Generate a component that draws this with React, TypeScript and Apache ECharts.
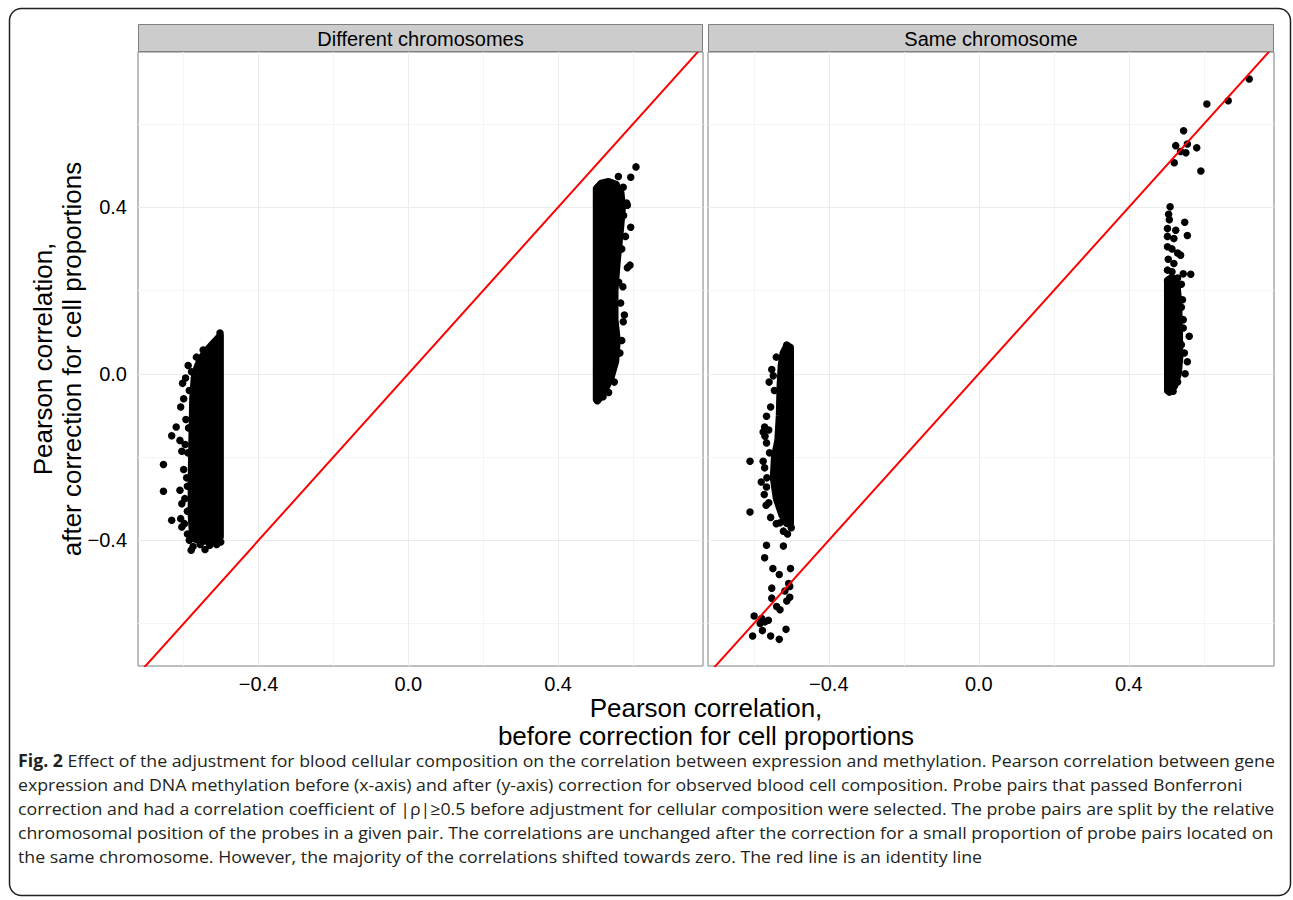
import React, { useEffect, useRef } from "react";
import * as echarts from "echarts";

// ---------- data ----------
const panelTitles = ["Different chromosomes", "Same chromosome"];
const xTicks = [-0.4, 0.0, 0.4];
const yTicks = [-0.4, 0.0, 0.4];
const gridMajor = [-0.4, 0.0, 0.4];
const gridMinor = [-0.6, -0.2, 0.2, 0.6];
const xRange = [-0.722, 0.787];
const yRange = [-0.702, 0.773];
const identityLine = [
  [-1, -1],
  [1, 1],
];

// dense cores (outline of point centres), panel 1 = different chromosomes
const diffNegCore = [
  [-0.502, 0.092], [-0.52, 0.075], [-0.54, 0.055], [-0.556, 0.035], [-0.566, 0.012],
  [-0.572, -0.01], [-0.576, -0.06], [-0.578, -0.15], [-0.58, -0.25], [-0.58, -0.34],
  [-0.576, -0.395], [-0.556, -0.402], [-0.53, -0.403], [-0.51, -0.4], [-0.502, -0.392],
];
const diffPosCore = [
  [0.502, 0.445], [0.515, 0.458], [0.535, 0.462], [0.555, 0.455], [0.568, 0.435],
  [0.572, 0.4], [0.566, 0.34], [0.558, 0.27], [0.552, 0.2], [0.552, 0.13],
  [0.558, 0.08], [0.554, 0.03], [0.542, -0.008], [0.525, -0.04], [0.51, -0.06], [0.502, -0.062],
];
const diffPoints = [
  [-0.503, 0.098], [-0.548, 0.057], [-0.579, 0.005], [-0.603, -0.023], [-0.595, -0.01],
  [-0.588, 0.02], [-0.566, 0.04], [-0.585, -0.04], [-0.6, -0.06], [-0.608, -0.08],
  [-0.594, -0.11], [-0.587, -0.13], [-0.62, -0.128], [-0.632, -0.149], [-0.61, -0.16],
  [-0.596, -0.17], [-0.605, -0.186], [-0.589, -0.19], [-0.654, -0.218], [-0.6, -0.23],
  [-0.592, -0.25], [-0.59, -0.27], [-0.654, -0.282], [-0.61, -0.28], [-0.597, -0.3],
  [-0.605, -0.312], [-0.59, -0.33], [-0.632, -0.352], [-0.608, -0.348], [-0.598, -0.36],
  [-0.605, -0.368], [-0.59, -0.385], [-0.585, -0.4], [-0.58, -0.424], [-0.575, -0.415],
  [-0.556, -0.41], [-0.543, -0.422], [-0.53, -0.412], [-0.512, -0.41], [-0.501, -0.404],
  [0.608, 0.497], [0.594, 0.472], [0.561, 0.474], [0.574, 0.448], [0.539, 0.458],
  [0.505, 0.447], [0.585, 0.405], [0.583, 0.41], [0.594, 0.352], [0.58, 0.33],
  [0.592, 0.261], [0.585, 0.255], [0.573, 0.209], [0.577, 0.141], [0.574, 0.125],
  [0.567, 0.17], [0.57, 0.08], [0.565, 0.05], [0.55, -0.02], [0.535, -0.045],
  [0.505, -0.065], [0.52, -0.055], [0.575, 0.38], [0.57, 0.3], [0.562, 0.22],
];

// panel 2 = same chromosome
const sameNegCore = [
  [-0.502, 0.064], [-0.512, 0.068], [-0.522, 0.05], [-0.527, 0.02], [-0.53, -0.03],
  [-0.532, -0.1], [-0.536, -0.16], [-0.545, -0.2], [-0.548, -0.25], [-0.54, -0.3],
  [-0.525, -0.34], [-0.512, -0.36], [-0.502, -0.36],
];
const samePosCore = [
  [0.503, 0.225], [0.515, 0.232], [0.528, 0.22], [0.533, 0.17], [0.535, 0.1],
  [0.536, 0.04], [0.532, 0.0], [0.522, -0.03], [0.51, -0.04], [0.503, -0.04],
];
const samePoints = [
  [-0.512, 0.069], [-0.54, 0.04], [-0.552, 0.01], [-0.548, -0.005], [-0.559, -0.02],
  [-0.545, -0.04], [-0.555, -0.08], [-0.566, -0.102], [-0.571, -0.128], [-0.56, -0.135],
  [-0.575, -0.14], [-0.57, -0.15], [-0.566, -0.166], [-0.558, -0.19], [-0.61, -0.21],
  [-0.575, -0.21], [-0.571, -0.226], [-0.565, -0.25], [-0.58, -0.26], [-0.566, -0.272],
  [-0.572, -0.29], [-0.56, -0.31], [-0.567, -0.316], [-0.61, -0.332], [-0.555, -0.345],
  [-0.54, -0.36], [-0.53, -0.358], [-0.521, -0.378], [-0.51, -0.385], [-0.5, -0.37],
  [-0.566, -0.412], [-0.521, -0.414], [-0.571, -0.442], [-0.549, -0.468], [-0.532, -0.482],
  [-0.502, -0.468], [-0.552, -0.515], [-0.504, -0.511], [-0.552, -0.539], [-0.504, -0.537],
  [-0.512, -0.546], [-0.539, -0.559], [-0.53, -0.567], [-0.599, -0.582], [-0.579, -0.588],
  [-0.561, -0.592], [-0.583, -0.6], [-0.57, -0.596], [-0.577, -0.617], [-0.603, -0.63],
  [-0.555, -0.63], [-0.532, -0.638], [-0.514, -0.614], [-0.507, -0.504], [-0.517, -0.522],
  [0.51, 0.401], [0.506, 0.383], [0.508, 0.37], [0.503, 0.349], [0.525, 0.345],
  [0.549, 0.364], [0.556, 0.332], [0.503, 0.33], [0.52, 0.325], [0.503, 0.305],
  [0.515, 0.3], [0.538, 0.285], [0.53, 0.29], [0.505, 0.275], [0.52, 0.265],
  [0.503, 0.249], [0.515, 0.245], [0.565, 0.239], [0.545, 0.24], [0.503, 0.223],
  [0.53, 0.23], [0.54, 0.215], [0.543, 0.178], [0.54, 0.16], [0.545, 0.13],
  [0.545, 0.11], [0.561, 0.09], [0.54, 0.07], [0.548, 0.05], [0.556, 0.029],
  [0.55, 0.0], [0.53, -0.02], [0.508, -0.044], [0.518, -0.042],
  [0.721, 0.708], [0.665, 0.656], [0.608, 0.648], [0.546, 0.584], [0.525, 0.548],
  [0.556, 0.552], [0.538, 0.534], [0.552, 0.531], [0.581, 0.543], [0.521, 0.507], [0.592, 0.487],
];

const xTitleLines = ["Pearson correlation,", "before correction for cell proportions"];
const yTitleLines = ["Pearson correlation,", "after correction for cell proportions"];
const captionBold = "Fig. 2";
const captionLines = [
  " Effect of the adjustment for blood cellular composition on the correlation between expression and methylation. Pearson correlation between gene",
  "expression and DNA methylation before (x-axis) and after (y-axis) correction for observed blood cell composition. Probe pairs that passed Bonferroni",
  "correction and had a correlation coefficient of |ρ|≥0.5 before adjustment for cellular composition were selected. The probe pairs are split by the relative",
  "chromosomal position of the probes in a given pair. The correlations are unchanged after the correction for a small proportion of probe pairs located on",
  "the same chromosome. However, the majority of the correlations shifted towards zero. The red line is an identity line",
];

// ---------- layout / style ----------
const FONT = "'Liberation Sans', Arial, Helvetica, sans-serif";
const CAP_FONT = "'Open Sans', 'Noto Sans', sans-serif";
const CAP_SIZE = 17;
const panels = [
  { left: 138, width: 565 },
  { left: 708, width: 566 },
];
const TOP = 52;
const HEIGHT = 614;
const MAJOR = "#ebebeb";
const MINOR = "#f4f4f4";

function fmt(v: number) {
  return v.toFixed(1).replace("-", "\u2212");
}

export default function App() {
  const ref = useRef<HTMLDivElement>(null);

  useEffect(() => {
    document.body.style.margin = "0";
    const chart = echarts.init(ref.current!, null, { renderer: "svg" });

    // caption width fit
    const ctx = document.createElement("canvas").getContext("2d")!;
    ctx.font = `bold ${CAP_SIZE}px ${CAP_FONT}`;
    const wb = ctx.measureText(captionBold).width;
    ctx.font = `${CAP_SIZE}px ${CAP_FONT}`;
    const w1 = ctx.measureText(captionLines[0]).width;
    const capScale = 1258 / (wb + w1);

    const grids = panels.map((p) => ({
      left: p.left,
      top: TOP,
      width: p.width,
      height: HEIGHT,
      show: true,
      borderColor: "#7f7f7f",
      borderWidth: 1,
      backgroundColor: "#ffffff",
      containLabel: false,
    }));

    const xAxes = panels.map((_, i) => ({
      type: "value",
      gridIndex: i,
      min: xRange[0],
      max: xRange[1],
      axisLine: { show: false },
      splitLine: { show: false },
      axisTick: { show: true, customValues: xTicks, length: 6, lineStyle: { color: "#333333", width: 1 } },
      axisLabel: {
        show: true,
        customValues: xTicks,
        formatter: (v: number) => fmt(v),
        color: "#000000",
        fontSize: 20,
        fontFamily: FONT,
        margin: 8,
      },
    }));

    const yAxes = panels.map((_, i) => ({
      type: "value",
      gridIndex: i,
      min: yRange[0],
      max: yRange[1],
      axisLine: { show: false },
      splitLine: { show: false },
      axisTick: { show: i === 0, customValues: yTicks, length: 6, lineStyle: { color: "#333333", width: 1 } },
      axisLabel: {
        show: i === 0,
        customValues: yTicks,
        formatter: (v: number) => fmt(v),
        color: "#000000",
        fontSize: 20,
        fontFamily: FONT,
        margin: 11,
      },
    }));

    const gridSeries = (gi: number) => ({
      type: "scatter",
      xAxisIndex: gi,
      yAxisIndex: gi,
      data: [],
      z: 1,
      silent: true,
      markLine: {
        z: 1,
        silent: true,
        symbol: ["none", "none"],
        label: { show: false },
        lineStyle: { type: "solid", width: 1 },
        emphasis: { disabled: true },
        data: [
          ...gridMinor.map((v) => ({ xAxis: v, lineStyle: { color: MINOR, type: "solid", width: 1 } })),
          ...gridMinor.map((v) => ({ yAxis: v, lineStyle: { color: MINOR, type: "solid", width: 1 } })),
          ...gridMajor.map((v) => ({ xAxis: v, lineStyle: { color: MAJOR, type: "solid", width: 1 } })),
          ...gridMajor.map((v) => ({ yAxis: v, lineStyle: { color: MAJOR, type: "solid", width: 1 } })),
        ],
      },
    });

    const blob = (poly: number[][], gi: number) => ({
      type: "custom",
      xAxisIndex: gi,
      yAxisIndex: gi,
      z: 2,
      silent: true,
      data: poly,
      renderItem: (params: any, api: any) => {
        if (params.dataIndex !== 0) return null;
        const pts = poly.map((p) => api.coord(p));
        return {
          type: "polygon",
          shape: { points: pts },
          style: { fill: "#000000", stroke: "#000000", lineWidth: 7, lineJoin: "round" },
        };
      },
    });

    const dots = (pts: number[][], gi: number) => ({
      type: "scatter",
      xAxisIndex: gi,
      yAxisIndex: gi,
      z: 3,
      silent: true,
      data: pts,
      symbol: "circle",
      symbolSize: 7.5,
      itemStyle: { color: "#000000", opacity: 1 },
    });

    const idLine = (gi: number) => ({
      type: "line",
      xAxisIndex: gi,
      yAxisIndex: gi,
      z: 4,
      silent: true,
      clip: true,
      data: identityLine,
      showSymbol: false,
      symbol: "none",
      lineStyle: { color: "#ff0000", width: 2 },
    });

    const graphics: any[] = [
      {
        type: "rect",
        shape: { x: 9.5, y: 8.5, width: 1281, height: 887, r: 12 },
        style: { fill: "none", stroke: "#231f20", lineWidth: 1.5 },
        z: 0,
      },
    ];
    panels.forEach((p, i) => {
      graphics.push({
        type: "rect",
        shape: { x: p.left + 0.5, y: 24.5, width: p.width - 1, height: 27 },
        style: { fill: "#cccccc", stroke: "#7f7f7f", lineWidth: 1 },
        z: 5,
      });
      graphics.push({
        type: "text",
        x: p.left + p.width / 2,
        y: 38.5,
        style: {
          text: panelTitles[i],
          fill: "#000000",
          fontSize: 20,
          fontFamily: FONT,
          align: "center",
          verticalAlign: "middle",
        },
        z: 6,
      });
    });
    xTitleLines.forEach((t, i) => {
      graphics.push({
        type: "text",
        x: 706,
        y: 708 + i * 28,
        style: { text: t, fill: "#000000", fontSize: 26, fontFamily: FONT, align: "center", verticalAlign: "middle" },
      });
    });
    yTitleLines.forEach((t, i) => {
      graphics.push({
        type: "text",
        x: 43 + i * 29,
        y: 359,
        rotation: Math.PI / 2,
        style: { text: t, fill: "#000000", fontSize: 26, fontFamily: FONT, align: "center", verticalAlign: "middle" },
      });
    });
    captionLines.forEach((t, i) => {
      graphics.push({
        type: "text",
        x: 18,
        y: 760 + i * 24,
        scaleX: capScale,
        style: {
          text: i === 0 ? `{b|${captionBold}}${t}` : t,
          rich: { b: { fontWeight: "bold", fontSize: CAP_SIZE, fontFamily: CAP_FONT, fill: "#231f20" } },
          fill: "#231f20",
          fontSize: CAP_SIZE,
          fontFamily: CAP_FONT,
          align: "left",
          verticalAlign: "middle",
        },
      });
    });

    chart.setOption({
      animation: false,
      backgroundColor: "#ffffff",
      grid: grids,
      xAxis: xAxes,
      yAxis: yAxes,
      series: [
        gridSeries(0),
        gridSeries(1),
        blob(diffNegCore, 0),
        blob(diffPosCore, 0),
        blob(sameNegCore, 1),
        blob(samePosCore, 1),
        dots(diffPoints, 0),
        dots(samePoints, 1),
        idLine(0),
        idLine(1),
      ],
      graphic: graphics,
    });

    return () => chart.dispose();
  }, []);

  return <div ref={ref} style={{ width: 1293, height: 900 }} />;
}
